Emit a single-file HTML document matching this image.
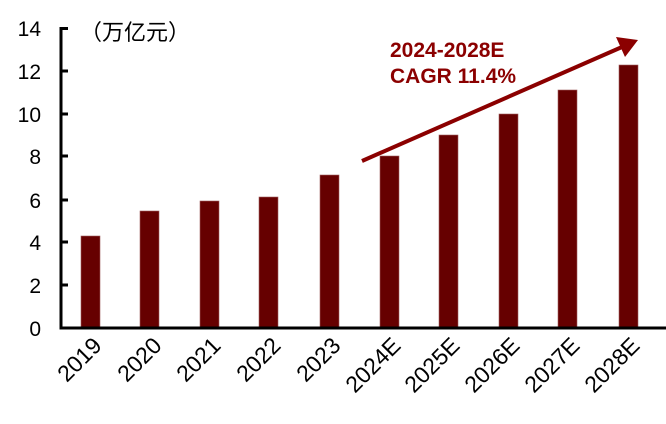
<!DOCTYPE html>
<html><head><meta charset="utf-8"><style>html,body{margin:0;padding:0;background:#fff;}svg{display:block}</style></head>
<body>
<svg width="666" height="424" xmlns="http://www.w3.org/2000/svg" font-family="Liberation Sans, Arial, sans-serif">
<g fill="#660000" stroke="#a06060" stroke-width="0.6">
<rect x="81" y="236" width="19" height="92"/>
<rect x="140" y="211" width="19" height="117"/>
<rect x="200" y="201" width="19" height="127"/>
<rect x="259" y="197" width="19" height="131"/>
<rect x="320" y="175" width="19" height="153"/>
<rect x="380" y="156" width="19" height="172"/>
<rect x="439" y="135" width="19" height="193"/>
<rect x="499" y="114" width="19" height="214"/>
<rect x="558" y="90" width="19" height="238"/>
<rect x="619" y="65" width="19" height="263"/>
</g>
<g stroke="#000" stroke-width="3">
<line x1="61" y1="27" x2="61" y2="329"/>
<line x1="59.5" y1="328" x2="666" y2="328"/>
<line x1="61" y1="28.5" x2="68" y2="28.5"/>
<line x1="61" y1="71" x2="68" y2="71"/>
<line x1="61" y1="114" x2="68" y2="114"/>
<line x1="61" y1="156" x2="68" y2="156"/>
<line x1="61" y1="200" x2="68" y2="200"/>
<line x1="61" y1="242" x2="68" y2="242"/>
<line x1="61" y1="285" x2="68" y2="285"/>
</g>
<g font-size="21" text-anchor="end" fill="#000">
<text x="41" y="36">14</text>
<text x="41" y="79">12</text>
<text x="41" y="122">10</text>
<text x="41" y="164">8</text>
<text x="41" y="208">6</text>
<text x="41" y="250">4</text>
<text x="41" y="293">2</text>
<text x="41" y="336">0</text>
</g>
<text x="80" y="40" font-size="22" font-family="Liberation Sans, Noto Sans CJK SC, sans-serif">（万亿元）</text>
<g font-size="23" text-anchor="end" fill="#000">
<text transform="translate(103,347) rotate(-45)">2019</text>
<text transform="translate(163,347) rotate(-45)">2020</text>
<text transform="translate(222,347) rotate(-45)">2021</text>
<text transform="translate(282,347) rotate(-45)">2022</text>
<text transform="translate(342,347) rotate(-45)">2023</text>
<text transform="translate(402,347) rotate(-45)">2024E</text>
<text transform="translate(461,347) rotate(-45)">2025E</text>
<text transform="translate(521,347) rotate(-45)">2026E</text>
<text transform="translate(581,347) rotate(-45)">2027E</text>
<text transform="translate(641,347) rotate(-45)">2028E</text>
</g>
<line x1="362" y1="161" x2="622" y2="47" stroke="#8b0000" stroke-width="4"/>
<polygon points="638,40 616,37 625,57" fill="#8b0000"/>
<g font-size="21" font-weight="bold" fill="#8b0000">
<text x="390" y="57">2024-2028E</text>
<text x="390" y="83">CAGR 11.4%</text>
</g>
</svg>
</body></html>
